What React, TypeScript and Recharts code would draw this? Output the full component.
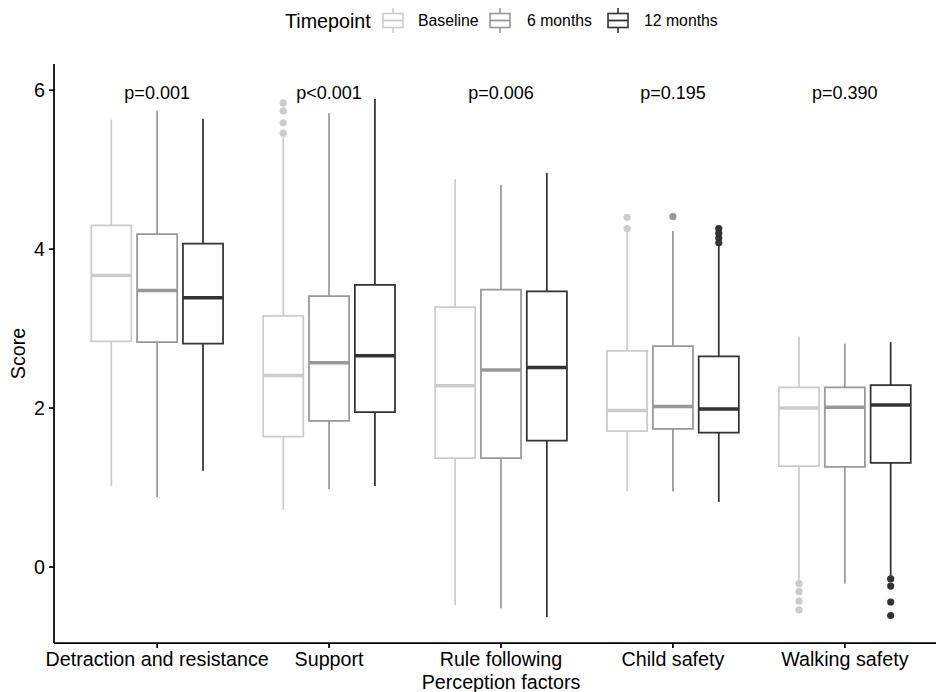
import React from "react";
import { ComposedChart, XAxis, YAxis, ReferenceArea, ReferenceLine, Scatter, Label } from "recharts";

const categories = ["Detraction and resistance", "Support", "Rule following", "Child safety", "Walking safety"];
const timepoints = ["Baseline", "6 months", "12 months"];
const colors = ["#cccccc", "#989898", "#333333"];
const pValues = ["p=0.001", "p<0.001", "p=0.006", "p=0.195", "p=0.390"];
const yTicks = [0, 2, 4, 6];

// [lower whisker, Q1, median, Q3, upper whisker] per category
const baselineStats = [
  [1.02, 2.84, 3.67, 4.3, 5.63],
  [0.72, 1.64, 2.41, 3.16, 5.41],
  [-0.48, 1.37, 2.28, 3.27, 4.88],
  [0.95, 1.71, 1.97, 2.72, 4.22],
  [-0.17, 1.27, 2.0, 2.26, 2.9],
];
const sixMonthStats = [
  [0.88, 2.83, 3.48, 4.19, 5.74],
  [0.98, 1.84, 2.57, 3.41, 5.71],
  [-0.52, 1.37, 2.48, 3.49, 4.81],
  [0.95, 1.74, 2.02, 2.78, 4.23],
  [-0.21, 1.26, 2.01, 2.26, 2.81],
];
const twelveMonthStats = [
  [1.21, 2.81, 3.39, 4.07, 5.64],
  [1.02, 1.95, 2.66, 3.55, 5.89],
  [-0.63, 1.59, 2.51, 3.47, 4.96],
  [0.82, 1.69, 1.99, 2.65, 4.05],
  [-0.13, 1.31, 2.04, 2.29, 2.83],
];

// outliers per category
const baselineOutliers = [[], [5.84, 5.74, 5.59, 5.46], [], [4.4, 4.26], [-0.21, -0.31, -0.43, -0.54]];
const sixMonthOutliers = [[], [], [], [4.41], []];
const twelveMonthOutliers = [[], [], [], [4.26, 4.2, 4.14, 4.08], [-0.15, -0.24, -0.44, -0.61]];

const allStats = [baselineStats, sixMonthStats, twelveMonthStats];
const allOutliers = [baselineOutliers, sixMonthOutliers, twelveMonthOutliers];

const FONT = "'Liberation Sans', Arial, Helvetica, sans-serif";
const DODGE = 0.8 / 3;
const BOX_W = 0.7 / 3;
const LABEL_Y = 5.89;

const pData = pValues.map((label, i) => ({ x: i + 1, y: LABEL_Y, label }));

function YTitle(props: any) {
  const vb = props.viewBox || { x: 0, y: 0, width: 54, height: 579 };
  return (
    <text
      x={25}
      y={vb.y + vb.height / 2}
      transform={`rotate(-90, 25, ${vb.y + vb.height / 2})`}
      textAnchor="middle"
      fontSize={19.7}
      fontFamily={FONT}
      fill="#000"
    >
      Score
    </text>
  );
}

function XTitle(props: any) {
  const vb = props.viewBox || { x: 54, y: 643, width: 894, height: 49 };
  return (
    <text x={vb.x + vb.width / 2} y={vb.y + 46} textAnchor="middle" fontSize={19.7} fontFamily={FONT} fill="#000">
      Perception factors
    </text>
  );
}

function Legend() {
  const keyX = [383, 490, 608];
  const textX = [418, 527, 644];
  return (
    <svg width={936} height={45} style={{ position: "absolute", left: 0, top: 0 }}>
      <text x={285} y={27.5} fontSize={19.7} fontFamily={FONT} fill="#000">
        Timepoint
      </text>
      {timepoints.map((t, i) => (
        <g key={t}>
          <line x1={keyX[i] + 10} x2={keyX[i] + 10} y1={8} y2={33} stroke={colors[i]} strokeWidth={1.6} />
          <rect x={keyX[i]} y={13.5} width={20} height={14} fill="#fff" stroke={colors[i]} strokeWidth={1.6} />
          <line x1={keyX[i]} x2={keyX[i] + 20} y1={20.5} y2={20.5} stroke={colors[i]} strokeWidth={1.8} />
          <text x={textX[i]} y={26.4} fontSize={15.8} fontFamily={FONT} fill="#000">
            {t}
          </text>
        </g>
      ))}
    </svg>
  );
}

export default function App() {
  const elements: any[] = [];
  allStats.forEach((stats, t) => {
    const color = colors[t];
    stats.forEach((s, c) => {
      const [lo, q1, med, q3, hi] = s;
      const xc = c + 1 + (t - 1) * DODGE;
      const xl = xc - BOX_W / 2;
      const xr = xc + BOX_W / 2;
      elements.push(
        <ReferenceLine
          key={`wu-${t}-${c}`}
          segment={[{ x: xc, y: q3 }, { x: xc, y: hi }]}
          stroke={color}
          strokeWidth={1.75}
        />
      );
      elements.push(
        <ReferenceLine
          key={`wl-${t}-${c}`}
          segment={[{ x: xc, y: lo }, { x: xc, y: q1 }]}
          stroke={color}
          strokeWidth={1.75}
        />
      );
      elements.push(
        <ReferenceArea
          key={`box-${t}-${c}`}
          x1={xl}
          x2={xr}
          y1={q1}
          y2={q3}
          fill="#ffffff"
          fillOpacity={1}
          stroke={color}
          strokeWidth={1.75}
        />
      );
      elements.push(
        <ReferenceLine
          key={`med-${t}-${c}`}
          segment={[{ x: xl, y: med }, { x: xr, y: med }]}
          stroke={color}
          strokeWidth={3.5}
        />
      );
    });
  });

  const outlierSeries = allOutliers.map((outs, t) => {
    const pts: { x: number; y: number }[] = [];
    outs.forEach((vals, c) => {
      vals.forEach((v) => pts.push({ x: c + 1 + (t - 1) * DODGE, y: v }));
    });
    const color = colors[t];
    return (
      <Scatter
        key={`out-${t}`}
        data={pts}
        fill={color}
        isAnimationActive={false}
        shape={(p: any) => <circle cx={p.cx} cy={p.cy} r={3.6} fill={color} />}
      />
    );
  });

  return (
    <div
      style={{
        position: "absolute",
        left: 0,
        top: 0,
        width: 936,
        height: 692,
        overflow: "hidden",
        background: "#fff",
      }}
    >
      <ComposedChart width={948} height={692} margin={{ top: 64, right: 0, bottom: 0, left: 0 }}>
        <XAxis
          type="number"
          dataKey="x"
          domain={[0.4, 5.6]}
          allowDataOverflow
          ticks={[1, 2, 3, 4, 5]}
          interval={0}
          tickFormatter={(v: number) => categories[Math.round(v) - 1] ?? ""}
          height={49}
          axisLine={{ stroke: "#000", strokeWidth: 1.75 }}
          tickLine={{ stroke: "#000", strokeWidth: 1.75 }}
          tickSize={5}
          tickMargin={4}
          tick={{ fill: "#000", fontSize: 19.7, fontFamily: FONT }}
        >
          <Label content={<XTitle />} />
        </XAxis>
        <YAxis
          type="number"
          dataKey="y"
          domain={[-0.956, 6.33]}
          allowDataOverflow
          ticks={yTicks}
          interval={0}
          width={54}
          axisLine={{ stroke: "#000", strokeWidth: 1.75 }}
          tickLine={{ stroke: "#000", strokeWidth: 1.75 }}
          tickSize={5}
          tickMargin={4}
          tick={{ fill: "#000", fontSize: 19.7, fontFamily: FONT }}
        >
          <Label content={<YTitle />} />
        </YAxis>
        {elements}
        {outlierSeries}
        <Scatter
          data={pData}
          isAnimationActive={false}
          shape={(p: any) => (
            <text x={p.cx} y={p.cy} textAnchor="middle" fontSize={18} fontFamily={FONT} fill="#000">
              {p.payload.label}
            </text>
          )}
        />
      </ComposedChart>
      <Legend />
    </div>
  );
}
